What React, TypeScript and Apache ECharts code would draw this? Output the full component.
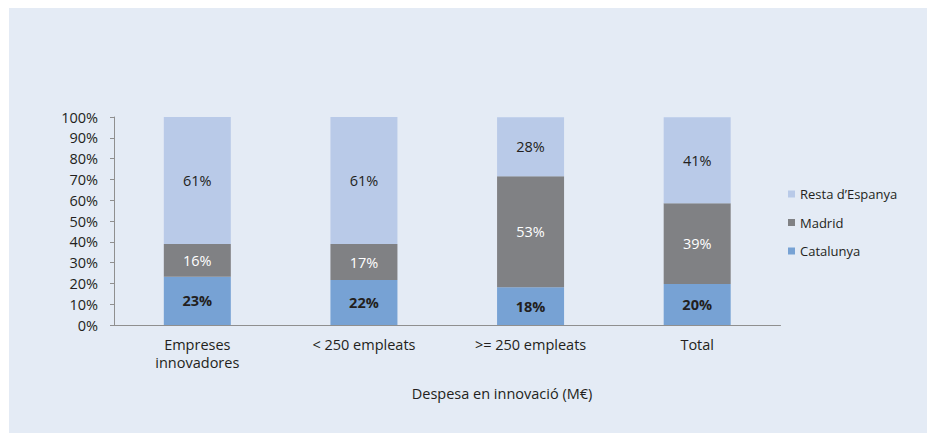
import React, { useEffect, useRef } from "react";
import * as echarts from "echarts";

const categories = ["Empreses\ninnovadores", "< 250 empleats", ">= 250 empleats", "Total"];
const catalunya = [23.2, 21.6, 18.1, 19.7];
const madrid = [15.7, 17.3, 53.4, 38.8];
const restaEspanya = [61.1, 61.1, 28.4, 41.4];
const yTicks = [0, 10, 20, 30, 40, 50, 60, 70, 80, 90, 100];
const axisTitle = "Despesa en innovació (M€)";

const FONT = "Open Sans";
const TXT = "#231f20";
const FS = 14.5;

export default function App() {
  const ref = useRef<HTMLDivElement>(null);
  useEffect(() => {
    if (!ref.current) return;
    const chart = echarts.init(ref.current, null, { renderer: "svg" });
    const fmt = (p: any) => Math.round(p.value) + "%";
    chart.setOption({
      animation: false,
      backgroundColor: "#ffffff",
      textStyle: { fontFamily: FONT },
      graphic: [
        {
          type: "rect",
          z: -10,
          silent: true,
          shape: { x: 9, y: 8, width: 918, height: 425 },
          style: { fill: "#e4ebf5" },
        },
        {
          type: "text",
          x: 502,
          y: 393,
          style: {
            text: axisTitle,
            fill: TXT,
            font: `${FS}px "${FONT}"`,
            textAlign: "center",
            textVerticalAlign: "middle",
          },
        },
      ],
      grid: { left: 114, right: 146.5, top: 117, bottom: 108, containLabel: false },
      legend: {
        orient: "vertical",
        left: 788,
        top: 187,
        padding: 0,
        itemWidth: 7,
        itemHeight: 7,
        itemGap: 14.5,
        icon: "rect",
        data: ["Resta d'Espanya", "Madrid", "Catalunya"],
        textStyle: { color: TXT, fontSize: 13, fontFamily: FONT, lineHeight: 14 },
        formatter: (n: string) => n.replace("'", "\u2019"),
      },
      xAxis: {
        type: "category",
        data: categories,
        axisLine: { lineStyle: { color: "#8f8f8f", width: 1 } },
        axisTick: { show: false },
        axisLabel: { color: TXT, fontSize: FS, fontFamily: FONT, lineHeight: 17.5, margin: 11 },
      },
      yAxis: {
        type: "value",
        min: 0,
        max: 100,
        interval: 10,
        splitLine: { show: false },
        axisLine: { show: true, lineStyle: { color: "#8f8f8f", width: 1 } },
        axisTick: { show: true, length: 4, lineStyle: { color: "#8f8f8f" } },
        axisLabel: {
          color: TXT,
          fontSize: FS,
          fontFamily: FONT,
          margin: 16,
          formatter: (v: number) => (yTicks.includes(v) ? v + "%" : ""),
        },
      },
      series: [
        {
          name: "Catalunya",
          type: "bar",
          stack: "s",
          barWidth: 67,
          data: catalunya,
          itemStyle: { color: "#77a2d4" },
          label: { show: true, position: "inside", formatter: fmt, color: TXT, fontWeight: "bold", fontSize: FS, fontFamily: FONT },
        },
        {
          name: "Madrid",
          type: "bar",
          stack: "s",
          barWidth: 67,
          data: madrid,
          itemStyle: { color: "#808184" },
          label: { show: true, position: "inside", formatter: fmt, color: "#ffffff", fontSize: FS, fontFamily: FONT },
        },
        {
          name: "Resta d'Espanya",
          type: "bar",
          stack: "s",
          barWidth: 67,
          data: restaEspanya,
          itemStyle: { color: "#b9cae8" },
          label: { show: true, position: "inside", formatter: fmt, color: TXT, fontSize: FS, fontFamily: FONT },
        },
      ],
    });
    return () => chart.dispose();
  }, []);
  return (
    <div
      ref={ref}
      style={{ position: "fixed", left: 0, top: 0, width: 927, height: 433 }}
    />
  );
}
